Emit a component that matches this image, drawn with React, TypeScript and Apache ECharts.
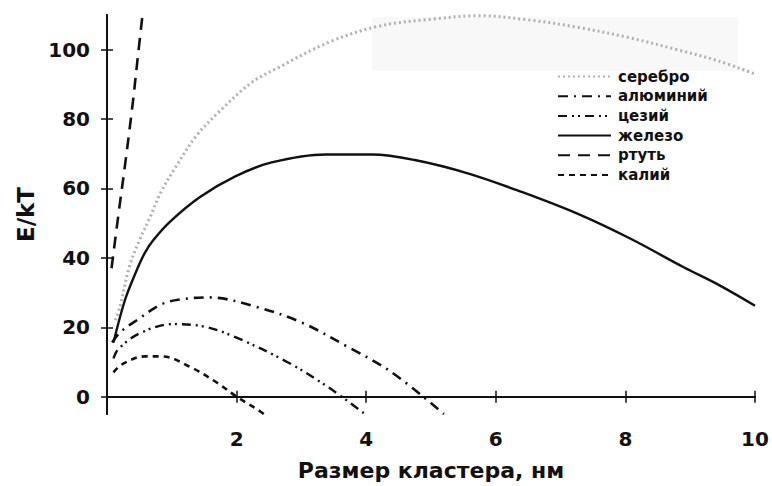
import React, { useEffect, useRef } from "react";
import * as echarts from "echarts";

const seriesNames = ["серебро", "алюминий", "цезий", "железо", "ртуть", "калий"];

const silverX = [0.13, 0.2, 0.35, 0.51, 0.66, 0.82, 1.07, 1.38, 1.74, 2.23, 2.66, 3.43, 4.2, 4.97, 5.74, 6.5, 7.28, 8.05, 8.8, 9.43, 10];
const silverY = [22, 26, 37.7, 45.5, 51.5, 58.5, 66.5, 75.2, 82.3, 90.5, 95, 102.2, 106.8, 108.7, 109.8, 108.6, 106.4, 103.5, 100, 96.8, 93];

const aluminumX = [0.08, 0.2, 0.48, 0.85, 1.2, 1.58, 2.28, 3.0, 3.7, 4.38, 5.2];
const aluminumY = [15.6, 18.5, 22.3, 26.7, 28.2, 28.6, 26, 21.4, 14.5, 7.2, -5];

const cesiumX = [0.1, 0.17, 0.48, 1.0, 1.5, 2.0, 2.78, 3.4, 3.98];
const cesiumY = [11, 13.6, 18, 20.9, 20.2, 17, 10, 2.9, -5];

const ironX = [0.1, 0.28, 0.46, 0.58, 0.71, 0.97, 1.43, 1.98, 2.54, 3.37, 4.09, 4.75, 5.58, 6.4, 7.25, 8.08, 8.9, 9.46, 10];
const ironY = [15.6, 28, 36.5, 41.3, 45, 50.4, 57.5, 63.5, 67.5, 69.8, 69.8, 68.2, 64.3, 59, 52.8, 45.5, 37.3, 32, 26.2];

const mercuryX = [0.07, 0.18, 0.28, 0.4, 0.47, 0.56];
const mercuryY = [37, 53, 67, 85, 97, 112];

const potassiumX = [0.1, 0.23, 0.58, 0.85, 1.3, 1.7, 2.0, 2.33, 2.42];
const potassiumY = [7, 9.3, 11.6, 11.6, 8.4, 4, 0, -3.8, -5];

const xTickValues = [2, 4, 6, 8, 10];
const yTickValues = [0, 20, 40, 60, 80, 100];

const FONT = "'DejaVu Sans', 'Noto Sans', sans-serif";

function pairs(xs: number[], ys: number[]) {
  return xs.map((x, i) => [x, ys[i]]);
}

export default function App() {
  const ref = useRef<HTMLDivElement>(null);
  useEffect(() => {
    if (!ref.current) return;
    const chart = echarts.init(ref.current, null, { renderer: "svg" });
    const mk = (name: string, xs: number[], ys: number[], color: string, width: number, type: any) => ({
      name,
      type: "line",
      data: pairs(xs, ys),
      smooth: 0.35,
      symbol: "none",
      showSymbol: false,
      clip: true,
      lineStyle: { color, width, type },
      itemStyle: { color },
    });
    const axisLineStyle = { color: "#111", width: 2 };
    chart.setOption({
      animation: false,
      backgroundColor: "#fff",
      grid: { left: 107, right: 17, top: 15, bottom: 71 },
      graphic: [
        {
          type: "rect",
          shape: { x: 372, y: 17, width: 366, height: 54 },
          style: { fill: "#f8f8f8" },
          z: -10,
        },
      ],
      legend: {
        orient: "vertical",
        left: 552,
        top: 64,
        itemWidth: 53,
        itemHeight: 14,
        itemGap: 4.7,
        data: seriesNames,
        itemStyle: { opacity: 0, borderWidth: 0 },
        textStyle: {
          fontFamily: FONT,
          fontWeight: "bold",
          fontSize: 15,
          color: "#111",
          padding: [0, 0, 0, 2],
        },
      },
      xAxis: [
        {
          type: "value",
          min: 0,
          max: 10,
          position: "bottom",
          splitLine: { show: false },
          axisLine: { show: true, lineStyle: axisLineStyle },
          axisTick: { show: true, inside: true, length: 6, customValues: xTickValues, lineStyle: { color: "#111", width: 1.5 } },
          axisLabel: {
            customValues: xTickValues,
            margin: 15,
            fontFamily: FONT,
            fontWeight: "bold",
            fontSize: 20,
            color: "#111",
          },
          name: "Размер кластера, нм",
          nameLocation: "middle",
          nameGap: 45,
          nameTextStyle: { fontFamily: FONT, fontWeight: "bold", fontSize: 22, color: "#111" },
        },
        {
          type: "value",
          min: 0,
          max: 10,
          position: "top",
          splitLine: { show: false },
          axisLine: { show: true, lineStyle: axisLineStyle },
          axisTick: { show: true, inside: true, length: 6, customValues: xTickValues, lineStyle: { color: "#111", width: 1.5 } },
          axisLabel: { show: false },
        },
      ],
      yAxis: [
        {
          type: "value",
          min: -5,
          max: 110,
          position: "left",
          splitLine: { show: false },
          axisLine: { show: true, lineStyle: axisLineStyle },
          axisTick: { show: true, inside: true, length: 6, customValues: yTickValues, lineStyle: { color: "#111", width: 1.5 } },
          axisLabel: {
            customValues: yTickValues,
            margin: 17,
            fontFamily: FONT,
            fontWeight: "bold",
            fontSize: 20,
            color: "#111",
          },
          name: "E/kT",
          nameLocation: "middle",
          nameGap: 67,
          nameTextStyle: { fontFamily: FONT, fontWeight: "bold", fontSize: 23, color: "#111" },
        },
        {
          type: "value",
          min: -5,
          max: 110,
          position: "right",
          splitLine: { show: false },
          axisLine: { show: true, lineStyle: axisLineStyle },
          axisTick: { show: true, inside: true, length: 6, customValues: yTickValues, lineStyle: { color: "#111", width: 1.5 } },
          axisLabel: { show: false },
        },
      ],
      series: [
        mk(seriesNames[0], silverX, silverY, "#b0b0b0", 3, [2, 3]),
        mk(seriesNames[1], aluminumX, aluminumY, "#111", 2.6, [10, 6, 2, 6]),
        mk(seriesNames[2], cesiumX, cesiumY, "#111", 2.4, [9, 5, 2, 4, 2, 5]),
        mk(seriesNames[3], ironX, ironY, "#111", 2.4, "solid"),
        mk(seriesNames[4], mercuryX, mercuryY, "#111", 2.6, [12, 8]),
        mk(seriesNames[5], potassiumX, potassiumY, "#111", 2.6, [6, 5]),
      ],
    });
    return () => chart.dispose();
  }, []);
  return <div ref={ref} style={{ width: 772, height: 486, position: "absolute", left: 0, top: 0 }} />;
}
